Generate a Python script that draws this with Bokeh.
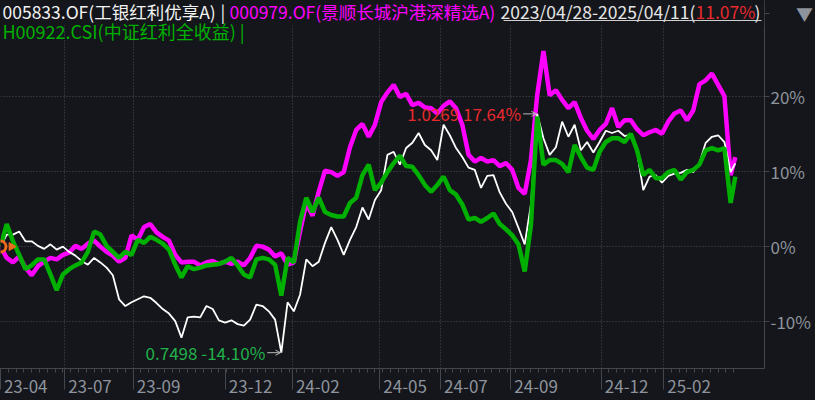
from bokeh.plotting import figure
from bokeh.models import (Range1d, LinearAxis, FixedTicker, PrintfTickFormatter, Label,
                          ColumnDataSource, Arrow, OpenHead, BoxAnnotation, Grid)
from bokeh.embed import file_html
from bokeh.resources import INLINE

# ---------------- data (trading-day index since 2023-04-28, % change) ----------------
day_index = list(range(0, 469, 4)) + [471]

fund_005833 = [
    0.0, 1.6, 1.6, 2.0, 0.7, 0.7, 0.1, -0.3, 0.3, -0.4,
    0.0, -0.7, -1.2, -1.9, -2.4, -1.5, -2.1, -2.8, -3.8, -7.0,
    -7.9, -7.4, -7.0, -6.6, -6.8, -7.5, -8.3, -8.9, -9.9, -12.1,
    -9.4, -9.3, -9.4, -7.9, -8.3, -9.8, -10.1, -9.8, -10.3, -10.5,
    -9.7, -7.7, -7.9, -8.6, -9.7, -14.1, -7.4, -8.6, -6.4, -1.7,
    -2.6, -2.0, 0.5, 2.6, 0.9, -1.1, 0.9, 2.6, 5.2, 3.6,
    6.2, 7.5, 12.2, 12.6, 10.9, 13.1, 13.8, 15.1, 13.5, 12.8,
    11.5, 16.2, 14.8, 13.1, 11.9, 10.5, 10.2, 7.8, 9.4, 9.5,
    7.2, 5.7, 4.6, 2.5, 0.3, 5.6, 17.64, 14.4, 12.2, 13.2,
    16.6, 14.6, 16.2, 12.8, 13.9, 12.5, 13.9, 15.4, 15.1, 15.4,
    14.7, 14.9, 12.6, 7.5, 9.3, 9.5, 8.5, 9.4, 9.7, 9.8,
    10.2, 9.9, 11.1, 13.8, 14.6, 14.8, 13.9, 9.9, 11.07,
]

fund_000979 = [
    0.0, -1.5, -2.1, -1.3, -2.8, -3.8, -2.6, -2.0, -1.5, -1.7,
    -1.1, -0.8, 0.1, -0.3, 0.4, 0.8, 0.0, -0.7, -1.2, -2.0,
    -1.5, 1.5, 0.9, 2.6, 3.0, 1.9, 1.3, 0.8, -1.1, -2.1,
    -2.0, -2.0, -2.5, -2.1, -1.9, -2.3, -2.0, -2.3, -2.0, -2.5,
    -1.5, 0.1, 0.0, -0.4, -1.3, -0.9, -2.4, -2.1, 2.0, 5.8,
    4.1, 7.3, 10.1, 9.9, 9.4, 9.9, 13.2, 15.5, 16.3, 14.6,
    16.2, 19.2, 20.5, 21.5, 19.9, 20.3, 18.8, 19.1, 18.5, 18.4,
    17.7, 18.7, 19.3, 18.4, 16.2, 12.2, 11.3, 11.8, 11.3, 11.5,
    10.7, 11.1, 10.2, 7.8, 7.0, 11.5, 20.1, 26.0, 20.1, 20.8,
    19.5, 18.4, 19.2, 17.1, 15.4, 14.3, 15.5, 16.3, 18.4, 15.9,
    16.8, 16.8, 15.6, 14.8, 15.2, 15.5, 15.0, 16.6, 17.7, 18.1,
    16.8, 18.1, 21.6, 22.1, 23.0, 21.5, 20.0, 9.5, 11.9,
]

index_h00922 = [
    0.0, 3.0, 0.7, -1.1, -3.0, -2.5, -1.7, -1.7, -3.7, -5.8,
    -3.7, -3.0, -2.5, -2.1, -0.7, 2.0, 1.6, 0.1, -0.7, -1.5,
    -0.7, -1.1, 0.9, 0.5, 1.3, 0.9, 0.4, -0.4, -2.4, -4.1,
    -2.6, -3.0, -2.8, -2.5, -2.4, -2.3, -2.0, -1.5, -2.5, -3.7,
    -4.1, -1.7, -1.5, -1.7, -2.4, -6.5, -1.5, -2.1, 3.3, 6.5,
    4.6, 6.5, 4.6, 4.2, 4.0, 4.0, 5.8, 6.5, 9.5, 10.9,
    7.5, 8.5, 9.9, 11.1, 12.1, 10.7, 10.6, 9.5, 8.2, 7.3,
    8.2, 9.3, 7.5, 6.9, 5.6, 3.6, 3.8, 3.3, 3.8, 4.4,
    3.0, 2.3, 1.5, 0.3, -3.3, 2.9, 17.3, 10.9, 11.5, 11.5,
    11.0, 9.9, 13.5, 11.9, 10.5, 10.2, 12.6, 13.9, 14.4, 14.4,
    13.9, 15.0, 12.8, 9.5, 10.2, 9.1, 9.1, 9.9, 10.2, 8.9,
    9.9, 10.2, 10.9, 12.8, 13.1, 12.8, 13.1, 5.8, 9.3,
]

month_ticks = [0, 41, 85, 144, 187, 243, 282, 327, 385, 425]
month_labels = ["23-04", "23-07", "23-09", "23-12", "24-02", "24-05", "24-07", "24-09", "24-12", "25-02"]
grid_months = [41, 85, 187, 243, 282, 327, 385, 425]
week_ticks = list(range(0, 471, 5))
pct_ticks = [-10, 0, 10, 20]

max_day, max_val, max_text = 344, 17.64, "1.0269 17.64%"
min_day, min_val, min_text = 180, -14.10, "0.7498 -14.10%"

name_a = "005833.OF(工银红利优享A)"
name_b = "000979.OF(景顺长城沪港深精选A)"
name_c = "H00922.CSI(中证红利全收益) |"
period_text = "2023/04/28-2025/04/11("
period_ret = "11.07%"

# ---------------- style ----------------
BG = "#14161b"
AXC = "#43464d"
GRIDC = "#4a4d55"
TICKTXT = "#8e939c"
FONT = "Noto Sans CJK SC"
WHITE = "#ffffff"
MAGENTA = "#ff00ff"
GREEN = "#00b000"
RED = "#e8292e"
GREEN_TXT = "#22b04a"
ORANGE = "#ee6a1c"
PAD = "\u3000"

Y_BOTTOM, Y_TOP_PLOT = -16.2, 29.4
Y_TOP = 32.71          # frame reaches the top of the canvas so the header row fits inside it

p = figure(width=815, height=400, output_backend="svg", toolbar_location=None,
           x_range=Range1d(0, 489.7), y_range=Range1d(Y_BOTTOM, Y_TOP),
           x_axis_location=None, y_axis_location=None,
           min_border_left=0, min_border_right=49, min_border_top=0, min_border_bottom=31)
p.background_fill_color = BG
p.border_fill_color = BG
p.outline_line_color = None
p.grid.visible = False

# right axis (+ the ▼ marker as a label of an extra tick)
arrow_tick = 31
yax = LinearAxis(ticker=FixedTicker(ticks=pct_ticks + [arrow_tick]),
                 formatter=PrintfTickFormatter(format="%d%%"))
yax.major_label_overrides = {arrow_tick: PAD + "\u2002▼"}
yax.axis_line_color = AXC
yax.major_tick_line_color = AXC
yax.major_tick_out = 5
yax.major_tick_in = 0
yax.minor_tick_line_color = None
yax.major_label_text_color = TICKTXT
yax.major_label_text_font = FONT
yax.major_label_text_font_size = "17px"
yax.major_label_standoff = 1
p.add_layout(yax, "right")

# bottom axis: tall separators, weekly minor ticks, labels right of separators
xax = LinearAxis(ticker=FixedTicker(ticks=month_ticks, minor_ticks=week_ticks))
overrides = {t: PAD * 3 + lab for t, lab in zip(month_ticks, month_labels)}
overrides[month_ticks[0]] = "\u2009" + month_labels[0]
xax.major_label_overrides = overrides
xax.axis_line_color = AXC
xax.major_tick_line_color = AXC
xax.minor_tick_line_color = AXC
xax.major_tick_out = 21
xax.major_tick_in = 0
xax.minor_tick_out = 4
xax.minor_tick_in = 0
xax.major_label_text_color = TICKTXT
xax.major_label_text_font = FONT
xax.major_label_text_font_size = "17px"
xax.major_label_standoff = -17
p.add_layout(xax, "below")

p.add_layout(Grid(dimension=1, ticker=FixedTicker(ticks=pct_ticks), grid_line_color=GRIDC,
                  grid_line_dash="1 2", grid_line_width=1))
p.add_layout(Grid(dimension=0, ticker=FixedTicker(ticks=grid_months), grid_line_color=GRIDC,
                  grid_line_dash="1 2", grid_line_width=1))

# series
src = ColumnDataSource(dict(x=day_index, a=fund_005833, b=fund_000979, c=index_h00922))
p.line("x", "b", source=src, line_color=MAGENTA, line_width=4.5)
p.line("x", "a", source=src, line_color=WHITE, line_width=1.8)
p.line("x", "c", source=src, line_color=GREEN, line_width=4.5)

# start marker
p.scatter([day_index[0]], [fund_005833[0]], marker="circle", size=11, fill_color=BG,
          line_color=ORANGE, line_width=3)
p.scatter([7], [fund_005833[0]], marker="triangle", size=8, angle=-1.5708,
          fill_color=ORANGE, line_color=ORANGE)

# max / min annotations
p.add_layout(Label(x=max_day - 9, y=max_val, text=max_text, x_offset=-2, text_align="right",
                   text_baseline="middle", text_color=RED, text_font=FONT, text_font_size="17px"))
p.add_layout(Arrow(x_start=max_day - 9, y_start=max_val, x_end=max_day - 0.5, y_end=max_val,
                   line_color="#bbbbbb", line_width=1,
                   end=OpenHead(size=5, line_color="#bbbbbb", line_width=1)))
p.add_layout(Label(x=min_day - 9, y=min_val, text=min_text, x_offset=-2, text_align="right",
                   text_baseline="middle", text_color=GREEN_TXT, text_font=FONT, text_font_size="17px"))
p.add_layout(Arrow(x_start=min_day - 9, y_start=min_val, x_end=min_day - 0.5, y_end=min_val,
                   line_color="#bbbbbb", line_width=1,
                   end=OpenHead(size=5, line_color="#bbbbbb", line_width=1)))

# header band (covers grid above the plotting area)
p.add_layout(BoxAnnotation(bottom=Y_TOP_PLOT, fill_color=BG, fill_alpha=1, line_alpha=0))

def hdr(x, y, text, color, size="17.5px"):
    p.add_layout(Label(x=x, y=y, x_units="screen", y_units="screen", text=text,
                       text_align="left", text_baseline="middle", text_color=color,
                       text_font=FONT, text_font_size=size))

R1, R2 = 357, 338
hdr(2, R1, name_a, "#f2f2f2")
hdr(220, R1, "|", "#f2f2f2")
hdr(229, R1, name_b, MAGENTA)
hdr(500, R1, period_text, "#e6e6e6")
hdr(695, R1, period_ret, RED)
hdr(754, R1, ")", "#e6e6e6")
hdr(2, R2, name_c, GREEN, "18px")
p.add_layout(BoxAnnotation(left=503, right=761, bottom=347.5, top=348.5, left_units="screen",
                           right_units="screen", bottom_units="screen", top_units="screen",
                           fill_color="#d0d0d0", fill_alpha=1, line_alpha=0))

html = file_html(p, INLINE, title="chart")
html = html.replace("</head>", "<style>body{background:#14161b;}</style></head>", 1)
open("out.html", "w").write(html)
